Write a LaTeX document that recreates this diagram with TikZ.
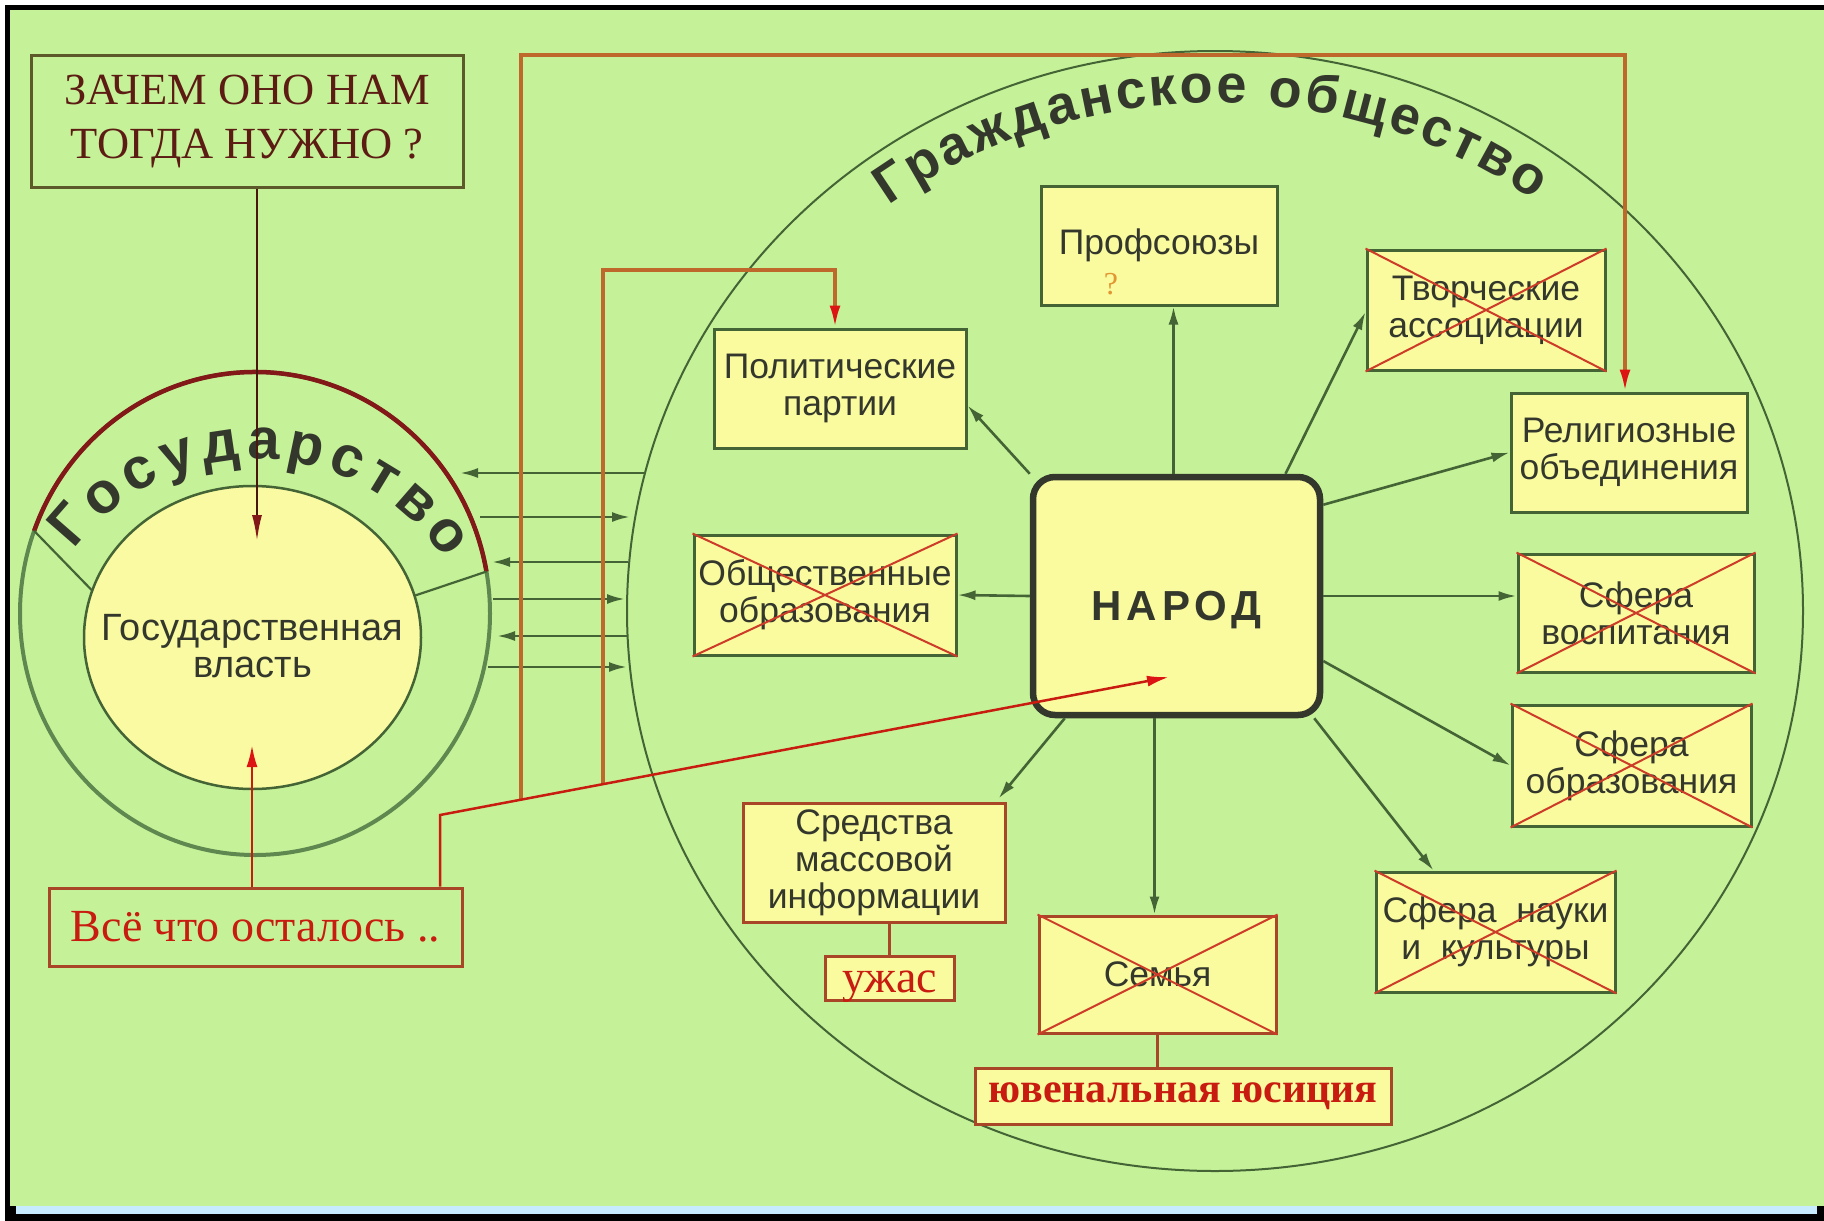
\documentclass[tikz,border=0pt]{standalone}
\usepackage{fontspec}
\setmainfont{Liberation Sans}
\newfontfamily\seriffont{Liberation Serif}
\usetikzlibrary{arrows.meta, positioning, calc, shapes.geometric, decorations.text}
\definecolor{bggreen}{RGB}{197,242,152}
\definecolor{boxyellow}{RGB}{250,250,158}
\definecolor{linegreen}{RGB}{68,100,54}
\definecolor{txtgray}{RGB}{52,56,44}
\definecolor{boxred}{RGB}{170,70,40}
\definecolor{orline}{RGB}{190,104,44}
\definecolor{arrowred}{RGB}{220,20,20}
\definecolor{crossred}{RGB}{205,60,40}
\definecolor{maroon}{RGB}{92,28,20}
\definecolor{redtxt}{RGB}{200,28,16}
\definecolor{ringgray}{RGB}{95,135,80}
\definecolor{ringred}{RGB}{130,24,24}
\definecolor{stripblue}{RGB}{200,236,255}
\definecolor{qorange}{RGB}{225,150,50}
\newcommand\gosfont{\fontsize{58}{58}\selectfont\bfseries}
\newcommand\civfont{\fontsize{54}{54}\selectfont\bfseries}

\begin{document}
\begin{tikzpicture}[
  x=1pt, y=1pt,
  box/.style={rectangle, draw=linegreen, line width=3pt, fill=boxyellow, align=center, inner sep=0pt, text=txtgray, font=\fontsize{35.5}{37}\selectfont},
  redbox/.style={box, draw=boxred},
  note/.style={rectangle, line width=3pt, align=center, inner sep=0pt},
  narr/.style={-{Latex[length=18pt,width=10pt]}, line width=2.6pt, draw=linegreen},
  hline/.style={line width=2.6pt, draw=linegreen},
  toleft/.style={{Latex[length=18pt,width=10pt]}-},
  toright/.style={-{Latex[length=18pt,width=10pt]}},
  orarr/.style={draw=orline, line width=3.5pt, -{Latex[length=22pt,width=11pt,color=arrowred]}},
  redarr/.style={draw=redtxt, line width=2.5pt, -{Latex[length=22pt,width=11pt,color=arrowred]}},
  darkarr/.style={draw=maroon!80!black, line width=2.2pt, -{Latex[length=26pt,width=10pt,color=ringred]}},
  link/.style={draw=boxred, line width=2.4pt},
  xline/.style={draw=crossred, line width=2pt},
]
  % frame
  \useasboundingbox (0,0) rectangle (1824,-1221);
  \fill[white] (0,0) rectangle (1824,-1221);
  \fill[black] (5,-5) rectangle (1824,-1221);
  \fill[bggreen] (10,-10) rectangle (1824,-1206);
  \fill[stripblue] (16,-1206) rectangle (1817,-1214);

  % civil society
  \draw[linegreen, line width=2pt] (1215,-611) ellipse [x radius=588, y radius=560];
  \path[decorate, decoration={text along path, text={|\civfont|Гражданское общество}, text align=fit to path, text color=txtgray}]
    (1215,-611) ++(127:542 and 508) arc[start angle=127, end angle=54, x radius=542, y radius=508];

  % state
  \coordinate (sc) at (255,-613.5);
  \coordinate (vc) at (252.5,-637.5);
  \draw[ringgray, line width=4pt] (sc) ellipse [x radius=235, y radius=241.5];
  \draw[ringred, line width=4.5pt] (sc) ++(10:235 and 241.5) arc[start angle=10, end angle=160, x radius=235, y radius=241.5];
  \draw[linegreen, line width=2.5pt, fill=boxyellow!96!white] (vc) ellipse [x radius=168.5, y radius=151.5];
  \node[align=center, text=txtgray, font=\fontsize{38}{37}\selectfont, inner sep=0pt] (vlast) at ([yshift=-9pt]vc) {Государственная\\власть};
  \draw[linegreen, line width=2.2pt] ($(sc)+(160:235 and 241.5)$) -- ($(vc)+(162:168.5 and 151.5)$);
  \draw[linegreen, line width=2.2pt] ($(sc)+(10:235 and 241.5)$) -- ($(vc)+(16:168.5 and 151.5)$);
  \path[decorate, decoration={text along path, text={|\gosfont|Государство}, text align=fit to path, text color=txtgray}]
    (256,-687) ++(143:228) arc[start angle=143, end angle=34, radius=228];

  % notes
  \node[note, draw=black!45!olive, minimum width=432pt, minimum height=132pt, text=maroon, font=\seriffont\fontsize{44.5}{54}\selectfont] (zachem) at (247,-121) {ЗАЧЕМ ОНО НАМ\\ТОГДА НУЖНО ?};
  \node[note, draw=boxred, minimum width=413pt, minimum height=78pt, text=redtxt, font=\seriffont\fontsize{46}{46}\selectfont] (vse) at (255.5,-927) {Всё что осталось ..};

  % organisations
  \node[box, minimum width=236pt, minimum height=119pt] (prof) at (1159,-245.5) {Профсоюзы};
  \node[text=qorange, font=\seriffont\fontsize{32}{32}\selectfont, inner sep=0pt] (q) at (1111,-284) {?};
  \node[box, minimum width=252pt, minimum height=119pt] (polit) at (840,-388.5) {Политические\\партии};
  \node[box, minimum width=238pt, minimum height=120pt] (tvor) at (1486,-310) {Творческие\\ассоциации};
  \node[box, minimum width=236pt, minimum height=119pt] (rel) at (1629,-452.5) {Религиозные\\объединения};
  \node[box, minimum width=262pt, minimum height=120pt] (obsh) at (825,-595) {Общественные\\образования};
  \node[box, rounded corners=22pt, line width=6.5pt, draw=txtgray, minimum width=287pt, minimum height=238pt, text height=48pt, text depth=0pt, font=\fontsize{42}{42}\selectfont\bfseries\addfontfeature{LetterSpace=12}] (narod) at (1176.5,-596) {НАРОД};
  \node[box, minimum width=236pt, minimum height=118pt] (vosp) at (1636,-613) {Сфера\\воспитания};
  \node[box, minimum width=239pt, minimum height=121pt] (obr) at (1631.5,-765.5) {Сфера\\образования};
  \node[redbox, minimum width=262pt, minimum height=119pt] (smi) at (874,-862.5) {Средства\\массовой\\информации};
  \node[note, draw=boxred, fill=boxyellow, minimum width=129pt, minimum height=44pt, text height=33pt, text depth=5pt, text=redtxt, font=\seriffont\fontsize{46}{46}\selectfont] (uzhas) at (889.5,-978) {ужас};
  \node[redbox, minimum width=237pt, minimum height=117pt] (semya) at (1157.5,-974.5) {Семья};
  \node[note, draw=boxred, fill=boxyellow, minimum width=416pt, minimum height=56pt, text=redtxt, font=\seriffont\fontsize{42}{42}\selectfont\bfseries] (juv) at (1183,-1096) {ювенальная юсиция};
  \node[box, minimum width=239pt, minimum height=120pt] (nauka) at (1495.5,-932) {Сфера\ \ науки\\и\ \ культуры};

  % state <-> society
  \foreach \y/\xa/\xb/\dir in {473/460/645/toleft, 517/480/630/toright, 562/492/628/toleft, 599/493/625/toright, 636/497/627/toleft, 667/488/627/toright}
    \draw[hline, \dir] (\xa,-\y) -- (\xb,-\y);

  % people -> organisations
  \draw[narr] (narod.north west) -- ([yshift=-17pt]polit.east);
  \draw[narr] ([xshift=-3pt]narod.north) -- ([xshift=-3pt]narod.north |- prof.south);
  \draw[narr] ([xshift=109pt]narod.north) -- ([yshift=-2pt]tvor.west);
  \draw[narr] ([yshift=-31pt]narod.north east) -- (rel.west);
  \draw[narr] (narod.west) -- (obsh.east);
  \draw[narr] (narod.east) -- (narod.east -| vosp.west);
  \draw[narr] ([yshift=-65pt]narod.east) -- (obr.west);
  \draw[narr] ([xshift=-9pt]narod.south east) -- ([xshift=-62pt]nauka.north);
  \draw[narr] ([xshift=-22pt]narod.south) -- ([xshift=-22pt]narod.south |- semya.north);
  \draw[narr] ([xshift=35pt]narod.south west) -- ([xshift=-8pt,yshift=3pt]smi.north east);
  \draw[link] (uzhas.north) -- (uzhas.north |- smi.south);
  \draw[link] (semya.south) -- (semya.south |- juv.north);

  % red lines
  \coordinate (tipdown) at (257,-541);
  \coordinate (tipup) at (252,-745);
  \coordinate (bend) at (440,-815);
  \coordinate (tipnarod) at (1169,-677);
  \coordinate (lineA) at ($(bend)!0.1111!(tipnarod)$);
  \coordinate (lineB) at ($(bend)!0.2236!(tipnarod)$);
  \coordinate (topA) at (0,-55);
  \coordinate (topB) at (0,-270);
  \draw[darkarr] (zachem.south -| tipdown) -- (tipdown);
  \draw[redarr] (vse.north -| tipup) -- (tipup);
  \draw[orarr] (lineA) -- (lineA |- topA) -| ([xshift=-4pt]rel.north);
  \draw[orarr] (lineB) -- (lineB |- topB) -| ([xshift=-5pt]polit.north);
  \draw[redarr] (vse.north -| bend) -- (bend) -- (tipnarod);

  % crossed out
  \foreach \n in {tvor, obsh, vosp, obr, semya, nauka}
    \draw[xline] (\n.north west) -- (\n.south east) (\n.north east) -- (\n.south west);
\end{tikzpicture}
\end{document}
